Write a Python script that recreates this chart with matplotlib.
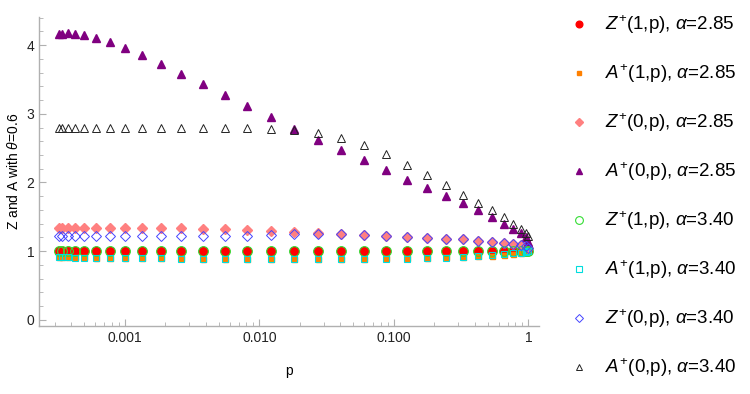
import matplotlib
matplotlib.use('Agg')
import matplotlib.pyplot as plt
from matplotlib.ticker import FixedLocator, LogLocator, MultipleLocator, NullFormatter

plt.rcParams['font.family'] = ['Liberation Sans', 'DejaVu Sans']
plt.rcParams['mathtext.fontset'] = 'custom'
plt.rcParams['mathtext.rm'] = 'Liberation Sans'
plt.rcParams['mathtext.it'] = 'Liberation Sans:italic'

# p values
p = [0.000323, 0.00034, 0.000375, 0.000425, 0.000498, 0.000612, 0.000774, 0.001005,
     0.00135, 0.00186, 0.00262, 0.00378, 0.00554, 0.00811, 0.0121, 0.0182, 0.0271,
     0.0404, 0.0595, 0.0868, 0.125, 0.176, 0.242, 0.324, 0.423, 0.538, 0.658, 0.771,
     0.875, 0.953, 1.0]

# alpha = 2.85
Z1_a = [1.0, 1.0, 1.0, 1.0, 1.0, 1.0, 1.0, 1.0, 1.0, 1.0, 1.0, 1.0, 1.0, 1.0, 1.0, 1.0,
        1.0, 1.0, 1.0, 1.0, 1.0, 1.0, 1.0, 1.0, 1.0, 1.0, 1.0, 1.0, 1.0, 1.0, 1.0]
A1_a = [0.915, 0.915, 0.915, 0.91, 0.91, 0.905, 0.905, 0.90, 0.90, 0.895, 0.895, 0.89,
        0.89, 0.89, 0.89, 0.89, 0.89, 0.89, 0.89, 0.895, 0.895, 0.90, 0.91, 0.92, 0.925,
        0.935, 0.945, 0.96, 0.975, 0.99, 1.0]
Z0_a = [1.335, 1.33, 1.33, 1.33, 1.33, 1.33, 1.33, 1.33, 1.33, 1.33, 1.33, 1.325, 1.32,
        1.315, 1.30, 1.285, 1.265, 1.245, 1.23, 1.215, 1.20, 1.19, 1.18, 1.17, 1.15,
        1.135, 1.12, 1.105, 1.085, 1.07, 1.045]
A0_a = [4.156, 4.167, 4.181, 4.167, 4.152, 4.108, 4.05, 3.962, 3.86, 3.729, 3.583, 3.437,
        3.277, 3.116, 2.956, 2.785, 2.625, 2.469, 2.323, 2.188, 2.042, 1.915, 1.80, 1.70,
        1.594, 1.492, 1.40, 1.323, 1.264, 1.20, 1.14]

# alpha = 3.40
Z1_b = [1.0, 1.0, 1.0, 1.0, 1.0, 1.0, 1.0, 1.0, 1.0, 1.0, 1.0, 1.0, 1.0, 1.0, 1.0, 1.0,
        1.0, 1.0, 1.0, 1.0, 1.0, 1.0, 1.0, 1.0, 1.0, 1.0, 1.0, 1.0, 1.0, 1.0, 1.0]
A1_b = [0.91, 0.91, 0.91, 0.905, 0.905, 0.90, 0.90, 0.90, 0.895, 0.895, 0.89, 0.89, 0.89,
        0.89, 0.89, 0.89, 0.89, 0.89, 0.89, 0.89, 0.89, 0.895, 0.90, 0.91, 0.93, 0.945,
        0.955, 0.97, 0.98, 0.99, 1.0]
Z0_b = [1.225, 1.225, 1.225, 1.225, 1.225, 1.225, 1.225, 1.225, 1.225, 1.225, 1.225,
        1.225, 1.225, 1.225, 1.235, 1.25, 1.255, 1.245, 1.23, 1.215, 1.20, 1.19, 1.18,
        1.17, 1.155, 1.14, 1.125, 1.11, 1.09, 1.075, 1.05]
A0_b = [2.80, 2.80, 2.80, 2.80, 2.80, 2.80, 2.80, 2.80, 2.80, 2.80, 2.80, 2.80, 2.795,
        2.795, 2.785, 2.766, 2.717, 2.65, 2.548, 2.417, 2.256, 2.11, 1.964, 1.813, 1.70,
        1.594, 1.492, 1.40, 1.323, 1.264, 1.215]

fig = plt.figure(figsize=(7.5, 3.94), dpi=100)
ax = fig.add_axes([0.0524, 0.1726, 0.6663, 0.7843])

ax.plot(p, Z1_a, 'o', ms=6.0, color='#ff0000', mec='#ff0000', ls='none',
        label=r'$Z^{+}$(1,p), $\alpha$=2.85')
ax.plot(p, A1_a, 's', ms=3.6, color='#ff8000', mec='#ff8000', ls='none',
        label=r'$A^{+}$(1,p), $\alpha$=2.85')
ax.plot(p, Z0_a, 'D', ms=4.8, color='#ff8080', mec='#ff8080', ls='none',
        label=r'$Z^{+}$(0,p), $\alpha$=2.85')
ax.plot(p, A0_a, '^', ms=5.6, color='#800080', mec='#800080', ls='none',
        label=r'$A^{+}$(0,p), $\alpha$=2.85')
ax.plot(p, Z1_b, 'o', ms=7.0, mfc='none', mec='#33dd33', mew=0.8, ls='none',
        label=r'$Z^{+}$(1,p), $\alpha$=3.40')
ax.plot(p, A1_b, 's', ms=5.0, mfc='none', mec='#00dddd', mew=0.8, ls='none',
        label=r'$A^{+}$(1,p), $\alpha$=3.40')
ax.plot(p, Z0_b, 'D', ms=4.8, mfc='none', mec='#4444ff', mew=0.7, ls='none',
        label=r'$Z^{+}$(0,p), $\alpha$=3.40')
ax.plot(p, A0_b, '^', ms=5.6, mfc='none', mec='#222222', mew=0.7, ls='none',
        label=r'$A^{+}$(0,p), $\alpha$=3.40')

ax.set_xscale('log')
ax.set_xlim(2.31e-4, 1.2)
ax.set_ylim(-0.09, 4.41)

ax.xaxis.set_major_locator(FixedLocator([0.001, 0.01, 0.1, 1]))
ax.set_xticklabels(['0.001', '0.010', '0.100', '1'])
ax.xaxis.set_minor_locator(LogLocator(base=10, subs=range(2, 10)))
ax.xaxis.set_minor_formatter(NullFormatter())
ax.yaxis.set_major_locator(MultipleLocator(1))
ax.yaxis.set_minor_locator(MultipleLocator(0.2))

for s in ['top', 'right']:
    ax.spines[s].set_visible(False)
for s in ['left', 'bottom']:
    ax.spines[s].set_color('#b0b0b0')
    ax.spines[s].set_linewidth(1.0)
ax.tick_params(which='both', direction='in', color='#b0b0b0', labelsize=10,
               labelcolor='#222222')
ax.tick_params(which='major', length=5, width=0.8)
ax.tick_params(which='minor', length=3, width=0.6)

ax.set_xlabel('p', fontsize=10, labelpad=14)
ax.set_ylabel(r'Z and A with $\theta$=0.6', fontsize=10, labelpad=4)

fig.legend(loc='upper left', bbox_to_anchor=(0.735, 1.008), frameon=False,
           fontsize=13.5, labelspacing=1.40, handletextpad=0.75, handlelength=1.2,
           markerscale=0.8)

fig.savefig('out.png', dpi=100)
